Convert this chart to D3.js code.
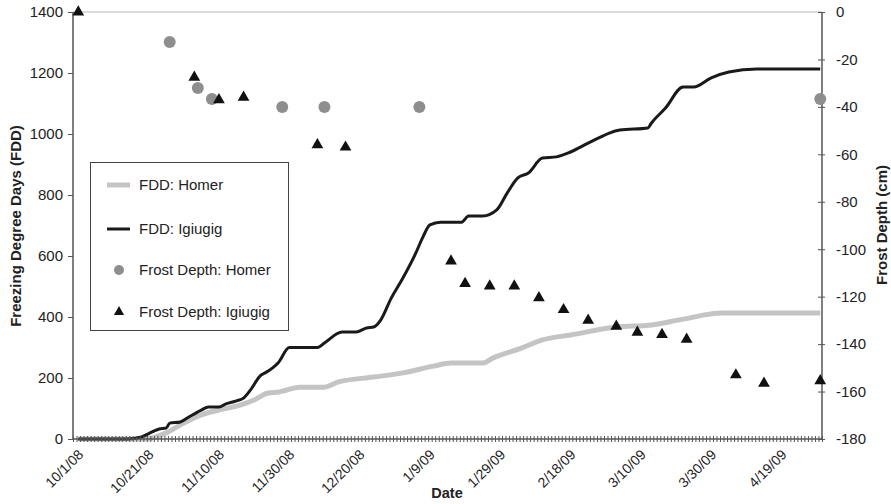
<!DOCTYPE html>
<html><head><meta charset="utf-8">
<script src="https://cdn.jsdelivr.net/npm/d3@7"></script>
<style>
html,body{margin:0;padding:0;background:#fff;}
svg text{font-family:"Liberation Sans",Arial,sans-serif;fill:#222;}
</style></head>
<body><svg id="c" width="891" height="504"></svg>
<script>
// ---------- data ----------
const fddHomerDates = ["10/1/08","10/20/08","10/26/08","10/30/08","11/5/08","11/10/08","11/16/08","11/20/08","11/24/08","11/27/08","12/3/08","12/10/08","12/14/08","12/24/08","1/1/09","1/10/09","1/15/09","1/24/09","1/27/09","2/4/09","2/10/09","2/18/09","3/3/09","3/13/09","3/22/09","4/2/09","4/30/09"];
const fddHomer = [0,0,20,46,79,95,111,128,151,154,170,170,187,203,216,239,249,249,266,298,325,341,367,374,393,413,413];

const fddIgiugigDates = ["10/1/08","10/15/08","10/19/08","10/22/08","10/24/08","10/26/08","10/27/08","10/30/08","11/1/08","11/5/08","11/7/08","11/10/08","11/12/08","11/15/08","11/17/08","11/19/08","11/22/08","11/23/08","11/27/08","11/30/08","12/8/08","12/10/08","12/15/08","12/19/08","12/22/08","12/24/08","12/26/08","12/29/08","1/1/09","1/5/09","1/7/09","1/9/09","1/12/09","1/18/09","1/20/09","1/24/09","1/28/09","1/31/09","2/3/09","2/6/09","2/10/09","2/14/09","2/18/09","2/23/09","2/26/09","3/1/09","3/4/09","3/12/09","3/13/09","3/17/09","3/22/09","3/25/09","3/30/09","4/4/09","4/12/09","4/30/09"];
const fddIgiugig = [0,0,7,23,33,36,52,56,69,95,105,105,115,125,134,161,210,216,252,300,300,315,351,351,364,367,390,462,521,610,662,702,711,711,731,731,751,807,856,872,921,925,941,970,987,1003,1013,1020,1036,1085,1154,1154,1184,1203,1213,1213];

const frostHomerDates = ["10/27/08","11/4/08","11/8/08","11/28/08","12/10/08","1/6/09","4/30/09"];
const frostHomer = [-12.6,-32,-36.7,-40,-40,-40,-36.7];

const frostIgiugigDates = ["10/1/08","11/3/08","11/10/08","11/17/08","12/8/08","12/16/08","1/15/09","1/19/09","1/26/09","2/2/09","2/9/09","2/16/09","2/23/09","3/3/09","3/9/09","3/16/09","3/23/09","4/6/09","4/14/09","4/30/09"];
const frostIgiugig = [0,-27.5,-37,-36,-56,-57,-105,-114.5,-115.5,-115.5,-120.5,-125.5,-130,-132.5,-135,-136,-138,-153,-156.5,-155.5];

const xTickLabels = ["10/1/08","10/21/08","11/10/08","11/30/08","12/20/08","1/9/09","1/29/09","2/18/09","3/10/09","3/30/09","4/19/09"];
const yLeftTicks = [0,200,400,600,800,1000,1200,1400];
const yRightTicks = [0,-20,-40,-60,-80,-100,-120,-140,-160,-180];
const legendLabels = ["FDD: Homer","FDD: Igiugig","Frost Depth: Homer","Frost Depth: Igiugig"];

// ---------- scales ----------
const parse = d3.timeParse("%m/%d/%y");
const mid = s => d3.timeHour.offset(parse(s), 12);
const L = 73, R = 822, T = 12, B = 439;
const x = d3.scaleTime().domain([new Date(2008,8,30), new Date(2009,4,1)]).range([L, R]);
const yL = d3.scaleLinear().domain([0,1400]).range([B, T]);
const yR = d3.scaleLinear().domain([-180,0]).range([B, T]);

const svg = d3.select("#c");
const axisColor = "#555";

// top border
svg.append("line").attr("x1",L).attr("x2",R).attr("y1",T).attr("y2",T)
  .attr("stroke","#b5b5b5").attr("stroke-width",1.2);

// lines
const homerPts = fddHomerDates.map((d,i)=>[mid(d), fddHomer[i]]);
const igPts = fddIgiugigDates.map((d,i)=>[mid(d), fddIgiugig[i]]);
const line = d3.line().x(d=>x(d[0])).y(d=>yL(d[1])).curve(d3.curveMonotoneX);
svg.append("path").attr("d", line(homerPts)).attr("fill","none")
  .attr("stroke","#c4c4c4").attr("stroke-width",5).attr("stroke-linejoin","round");
svg.append("path").attr("d", line(igPts)).attr("fill","none")
  .attr("stroke","#1a1a1a").attr("stroke-width",3).attr("stroke-linejoin","round");

// axes
const gL = svg.append("g").attr("transform",`translate(${L},0)`)
  .call(d3.axisLeft(yL).tickValues(yLeftTicks).tickSize(5).tickPadding(5).tickFormat(d=>String(d)));
const gR = svg.append("g").attr("transform",`translate(${R},0)`)
  .call(d3.axisRight(yR).tickValues(yRightTicks).tickSize(3).tickPadding(11).tickFormat(d=>String(d)));
gR.selectAll(".tick line").attr("x1",-4);
const dayTicks = d3.timeDay.range(x.domain()[0], d3.timeDay.offset(x.domain()[1],1));
const gB = svg.append("g").attr("transform",`translate(0,${B})`)
  .call(d3.axisBottom(x).tickValues(dayTicks).tickSize(3).tickFormat(""));
gB.selectAll(".tick line").attr("y1",-3);
[gL,gR,gB].forEach(g=>{
  g.select(".domain").attr("stroke",axisColor).attr("stroke-width",1.5);
  g.selectAll(".tick line").attr("stroke",axisColor).attr("stroke-width",1);
  g.selectAll(".tick text").attr("font-size",15).attr("fill","#222")
    .style("font-family",'"Liberation Sans",Arial,sans-serif');
});
gR.select(".domain").attr("d",`M0,${T}V${B}`);
gL.select(".domain").attr("d",`M0,${T}V${B}`);
gB.select(".domain").attr("d",`M${L},0H${R}`);

// x labels
const gX = svg.append("g").attr("transform",`translate(0,${B})`)
  .call(d3.axisBottom(x).tickValues(xTickLabels.map(mid)).tickSize(0)
    .tickFormat((d,i)=>xTickLabels[i]));
gX.select(".domain").remove();
gX.selectAll(".tick text").attr("font-size",14).attr("fill","#222")
  .style("font-family",'"Liberation Sans",Arial,sans-serif')
  .attr("text-anchor","end").attr("y",0).attr("dy","0.35em")
  .attr("transform","translate(2,13) rotate(-45)");

// markers
svg.append("g").selectAll("circle").data(frostHomerDates).join("circle")
  .attr("cx",d=>x(mid(d))).attr("cy",(d,i)=>yR(frostHomer[i])).attr("r",6)
  .attr("fill","#8e8e8e");
const tri = d3.symbol().type(d3.symbolTriangle).size(60);
svg.append("g").selectAll("path").data(frostIgiugigDates).join("path")
  .attr("d",tri)
  .attr("transform",(d,i)=>`translate(${x(mid(d))},${yR(frostIgiugig[i])})`)
  .attr("fill","#111");

// axis titles
svg.append("text").attr("transform","translate(21,226) rotate(-90)")
  .attr("text-anchor","middle").attr("font-size",15).attr("font-weight","bold")
  .text("Freezing Degree Days (FDD)");
svg.append("text").attr("transform","translate(887,225) rotate(-90)")
  .attr("text-anchor","middle").attr("font-size",15).attr("font-weight","bold")
  .text("Frost Depth (cm)");
svg.append("text").attr("x",447).attr("y",498)
  .attr("text-anchor","middle").attr("font-size",14.5).attr("font-weight","bold")
  .text("Date");

// legend
const lg = svg.append("g");
lg.append("rect").attr("x",90.5).attr("y",162.5).attr("width",198).attr("height",168)
  .attr("fill","#fff").attr("stroke","#444").attr("stroke-width",1);
const ly = [185,229,270,312];
lg.append("line").attr("x1",107).attr("x2",130).attr("y1",ly[0]).attr("y2",ly[0])
  .attr("stroke","#c4c4c4").attr("stroke-width",5);
lg.append("line").attr("x1",107).attr("x2",130).attr("y1",ly[1]).attr("y2",ly[1])
  .attr("stroke","#1a1a1a").attr("stroke-width",3);
lg.append("circle").attr("cx",119).attr("cy",ly[2]).attr("r",5).attr("fill","#8e8e8e");
lg.append("path").attr("d",d3.symbol().type(d3.symbolTriangle).size(45))
  .attr("transform",`translate(119,${ly[3]})`).attr("fill","#111");
lg.selectAll("text.l").data(legendLabels).join("text").attr("class","l")
  .attr("x",139).attr("y",(d,i)=>ly[i]).attr("dy","0.35em")
  .attr("font-size",15).text(d=>d);
</script></body></html>
